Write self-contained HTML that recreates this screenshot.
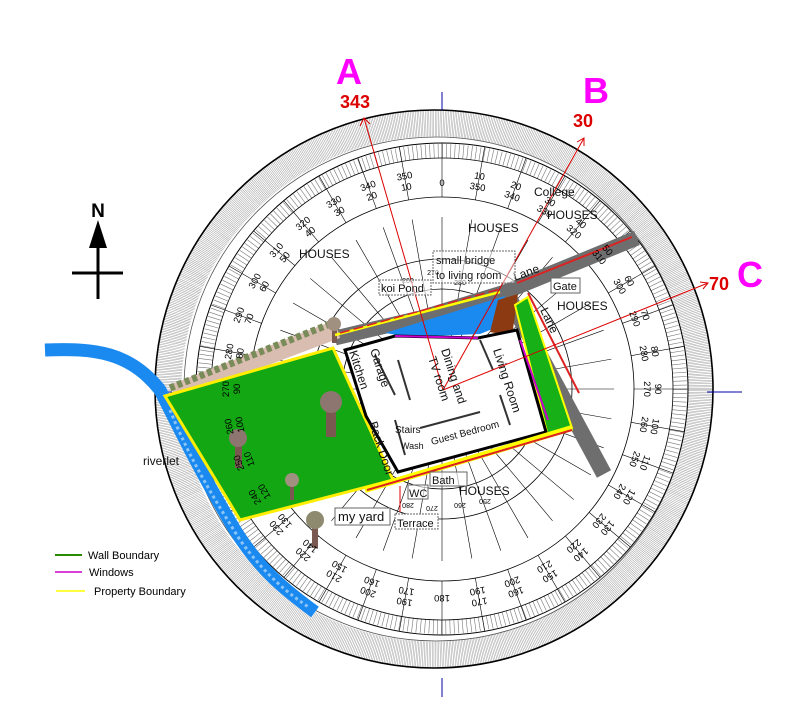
<!DOCTYPE html>
<html><head><meta charset="utf-8"><style>
html,body{margin:0;padding:0;background:#fff;}
svg{display:block;font-family:"Liberation Sans",sans-serif;}
</style></head><body>
<svg id="s" width="786" height="702" viewBox="0 0 786 702" xmlns="http://www.w3.org/2000/svg">
<rect width="786" height="702" fill="#fff"/>
<!-- outer hatched ring -->
<circle cx="434" cy="389" r="266" fill="none" stroke="#9a9a9a" stroke-width="27" stroke-dasharray="0.5 1.1"/>
<circle cx="434" cy="389" r="279" fill="none" stroke="#000" stroke-width="1.6"/>
<circle cx="436" cy="389" r="252" fill="none" stroke="#555" stroke-width="0.8"/>
<!-- dial -->
<circle cx="442" cy="389" r="246" fill="#fff" stroke="#000" stroke-width="1"/>
<circle cx="442" cy="389" r="238" fill="none" stroke="#777" stroke-width="14" stroke-dasharray="0.6 3.6"/>
<circle cx="442" cy="389" r="231" fill="none" stroke="#000" stroke-width="0.8"/>
<circle cx="442" cy="389" r="192" fill="none" stroke="#000" stroke-width="0.8"/>
<circle cx="442" cy="389" r="130" fill="none" stroke="#000" stroke-width="0.8"/>
<circle cx="442" cy="389" r="100" fill="none" stroke="#000" stroke-width="0.8"/>
<circle cx="442" cy="389" r="52" fill="none" stroke="#000" stroke-width="0.8"/>
<g id="rad" stroke="#000" stroke-width="0.6"></g>
<!-- axis lines -->
<line x1="442" y1="92" x2="442" y2="110" stroke="#00a" stroke-width="1"/>
<line x1="442" y1="678" x2="442" y2="697" stroke="#00a" stroke-width="1"/>
<line x1="707" y1="392" x2="742" y2="392" stroke="#00a" stroke-width="1"/>
<line x1="160" y1="392" x2="172" y2="392" stroke="#00a" stroke-width="1"/>
<line x1="390" y1="390" x2="500" y2="390" stroke="#000" stroke-width="1"/>
<!-- river -->
<path d="M45,350 C95,348 130,352 160,390 C185,440 205,480 235,530 C260,570 285,590 315,612" fill="none" stroke="#1a8af0" stroke-width="13"/>
<path d="M170,410 C190,460 215,500 240,540 C265,575 290,595 310,608" fill="none" stroke="#8cc4f5" stroke-width="3" stroke-dasharray="3 3"/>
<!-- lanes -->
<polyline points="335,338 420,318 505,292 637,238" fill="none" stroke="#6e6e6e" stroke-width="15"/>
<polyline points="508,296 604,474" fill="none" stroke="#6e6e6e" stroke-width="16"/>
<line x1="517" y1="283" x2="632" y2="237" stroke="#d22" stroke-width="2"/>
<line x1="528" y1="293" x2="579" y2="393" stroke="#d22" stroke-width="2"/>
<!-- tree fence -->
<polygon points="170,385 335,320 340,338 176,400" fill="#d9bdb0"/>
<polyline points="170,388 335,322" fill="none" stroke="#7a8b5a" stroke-width="7" stroke-dasharray="5 3"/>
<!-- lawn -->
<polygon points="165,396 333,348 393,480 240,520" fill="#13a813" stroke="#ffee00" stroke-width="3"/>
<!-- trees -->
<g fill="#7a5a50">
<rect x="326" y="405" width="10" height="32"/><circle cx="331" cy="402" r="11" fill="#8e7670"/>
<rect x="235" y="440" width="7" height="28"/><circle cx="238" cy="438" r="9" fill="#8e7670"/>
<rect x="290" y="482" width="4" height="18"/><circle cx="292" cy="480" r="7" fill="#a09080"/>
<rect x="312" y="520" width="6" height="28"/><circle cx="315" cy="520" r="9" fill="#8e8a70"/>
<rect x="332" y="325" width="5" height="18"/><circle cx="334" cy="324" r="7" fill="#a09080"/>
</g>
<!-- koi pond + brown -->
<polygon points="385,333 505,296 495,328 480,334 410,337" fill="#1a8af0"/>
<polygon points="498,300 518,294 512,336 490,332" fill="#8b3a12"/>
<!-- right green strip -->
<polygon points="515,305 528,297 572,428 548,436" fill="#17b017" stroke="#ff0" stroke-width="2"/>
<!-- house walls -->
<polygon points="345,350 395,336 478,338 517,330 546,432 398,472 366,416" fill="#fff" stroke="#000" stroke-width="3"/>
<line x1="395" y1="336" x2="478" y2="338" stroke="#c0c" stroke-width="2"/>
<line x1="520" y1="340" x2="548" y2="420" stroke="#c0c" stroke-width="2"/>
<g stroke="#333" stroke-width="2">
<line x1="375" y1="355" x2="395" y2="395"/><line x1="398" y1="360" x2="410" y2="400"/>
<line x1="395" y1="420" x2="405" y2="455"/><line x1="420" y1="428" x2="480" y2="412"/>
<line x1="480" y1="340" x2="493" y2="370"/><line x1="500" y1="395" x2="510" y2="425"/>
</g>
<!-- bottom boundary -->
<line x1="365" y1="490" x2="572" y2="428" stroke="#ff0" stroke-width="6"/>
<line x1="367" y1="490" x2="572" y2="430" stroke="#d22" stroke-width="2"/>
<line x1="335" y1="335" x2="500" y2="292" stroke="#ff0" stroke-width="2.5"/>
<line x1="340" y1="333" x2="500" y2="289" stroke="#d22" stroke-width="1.5" stroke-dasharray="10 4"/>
<!-- red direction lines -->
<g stroke="#d00" stroke-width="1" fill="none">
<line x1="443" y1="390" x2="364" y2="118"/><polyline points="360,126 364,118 370,124"/>
<line x1="443" y1="390" x2="584" y2="138"/><polyline points="577,142 584,138 584,146"/>
<line x1="443" y1="390" x2="708" y2="283"/><polyline points="700,282 708,283 703,289"/>
</g>
<!-- dial labels -->
<g font-size="9.5" text-anchor="middle" fill="#000" id="lab">
<text x="442" y="186" >0</text>
<g transform="rotate(10 442 389)"><text x="442" y="176">10</text><text x="442" y="187">350</text></g>
<g transform="rotate(20 442 389)"><text x="442" y="176">20</text><text x="442" y="187">340</text></g>
<g transform="rotate(30 442 389)"><text x="442" y="176">30</text><text x="442" y="187">330</text></g>
<g transform="rotate(40 442 389)"><text x="442" y="176">40</text><text x="442" y="187">320</text></g>
<g transform="rotate(50 442 389)"><text x="442" y="176">50</text><text x="442" y="187">310</text></g>
<g transform="rotate(60 442 389)"><text x="442" y="176">60</text><text x="442" y="187">300</text></g>
<g transform="rotate(70 442 389)"><text x="442" y="176">70</text><text x="442" y="187">290</text></g>
<g transform="rotate(80 442 389)"><text x="442" y="176">80</text><text x="442" y="187">280</text></g>
<g transform="rotate(90 442 389)"><text x="442" y="176">90</text><text x="442" y="187">270</text></g>
<g transform="rotate(100 442 389)"><text x="442" y="176">100</text><text x="442" y="187">260</text></g>
<g transform="rotate(110 442 389)"><text x="442" y="176">110</text><text x="442" y="187">250</text></g>
<g transform="rotate(120 442 389)"><text x="442" y="176">120</text><text x="442" y="187">240</text></g>
<g transform="rotate(130 442 389)"><text x="442" y="176">130</text><text x="442" y="187">230</text></g>
<g transform="rotate(140 442 389)"><text x="442" y="176">140</text><text x="442" y="187">220</text></g>
<g transform="rotate(150 442 389)"><text x="442" y="176">150</text><text x="442" y="187">210</text></g>
<g transform="rotate(160 442 389)"><text x="442" y="176">160</text><text x="442" y="187">200</text></g>
<g transform="rotate(170 442 389)"><text x="442" y="176">170</text><text x="442" y="187">190</text></g>
<g transform="rotate(180 442 389)"><text x="442" y="183">180</text></g>
<g transform="rotate(190 442 389)"><text x="442" y="176">190</text><text x="442" y="187">170</text></g>
<g transform="rotate(200 442 389)"><text x="442" y="176">200</text><text x="442" y="187">160</text></g>
<g transform="rotate(210 442 389)"><text x="442" y="176">210</text><text x="442" y="187">150</text></g>
<g transform="rotate(220 442 389)"><text x="442" y="176">220</text><text x="442" y="187">140</text></g>
<g transform="rotate(230 442 389)"><text x="442" y="176">230</text><text x="442" y="187">130</text></g>
<g transform="rotate(240 442 389)"><text x="442" y="176">240</text><text x="442" y="187">120</text></g>
<g transform="rotate(250 442 389)"><text x="442" y="176">250</text><text x="442" y="187">110</text></g>
<g transform="rotate(260 442 389)"><text x="442" y="176">260</text><text x="442" y="187">100</text></g>
<g transform="rotate(270 442 389)"><text x="442" y="176">270</text><text x="442" y="187">90</text></g>
<g transform="rotate(280 442 389)"><text x="442" y="176">280</text><text x="442" y="187">80</text></g>
<g transform="rotate(290 442 389)"><text x="442" y="176">290</text><text x="442" y="187">70</text></g>
<g transform="rotate(300 442 389)"><text x="442" y="176">300</text><text x="442" y="187">60</text></g>
<g transform="rotate(310 442 389)"><text x="442" y="176">310</text><text x="442" y="187">50</text></g>
<g transform="rotate(320 442 389)"><text x="442" y="176">320</text><text x="442" y="187">40</text></g>
<g transform="rotate(330 442 389)"><text x="442" y="176">330</text><text x="442" y="187">30</text></g>
<g transform="rotate(340 442 389)"><text x="442" y="176">340</text><text x="442" y="187">20</text></g>
<g transform="rotate(350 442 389)"><text x="442" y="176">350</text><text x="442" y="187">10</text></g>
</g>
<!-- small inner labels -->
<g font-size="7" fill="#000" text-anchor="middle">
<text x="433" y="275">270</text><text x="460" y="285">280</text><text x="408" y="283">260</text>
<text x="432" y="512" transform="rotate(180 432 509)">270</text><text x="408" y="509" transform="rotate(180 408 506)">280</text>
<text x="460" y="509" transform="rotate(180 460 506)">260</text><text x="485" y="505" transform="rotate(180 485 502)">250</text>
</g>
<!-- labels -->
<g font-size="12" fill="#111">
<text x="299" y="258">HOUSES</text>
<text x="468" y="232">HOUSES</text>
<text x="534" y="196">College</text>
<text x="547" y="219">HOUSES</text>
<text x="557" y="310">HOUSES</text>
<text x="459" y="495">HOUSES</text>
<text x="143" y="465">riverlet</text>
<text x="515" y="281" transform="rotate(-20 515 281)">Lane</text>
<text x="540" y="310" transform="rotate(65 540 310)">Lane</text>
<text x="370" y="350" transform="rotate(72 370 350)">Garage</text>
<text x="349" y="352" transform="rotate(72 349 352)">Kitchen</text>
<text x="441" y="350" transform="rotate(72 441 350)">Dining and</text>
<text x="428" y="358" transform="rotate(72 428 358)">TV room</text>
<text x="493" y="350" transform="rotate(72 493 350)">Living Room</text>
<text x="369" y="423" transform="rotate(72 369 423)">Back Door</text>
<text x="395" y="433" font-size="10">Stairs</text>
<text x="432" y="445" font-size="10" transform="rotate(-15 432 445)">Guest Bedroom</text>
<text x="401" y="449" font-size="9">Wash</text>
</g>
<g font-size="11" fill="#111">
<rect x="433" y="251" width="82" height="32" fill="#fff" fill-opacity="0.5" stroke="#666" stroke-dasharray="2 1"/>
<text x="436" y="264">small bridge</text><text x="436" y="279">to living room</text>
<rect x="379" y="280" width="52" height="15" fill="#fff" fill-opacity="0.6" stroke="#666" stroke-dasharray="2 1"/>
<text x="381" y="292">koi Pond</text>
<rect x="551" y="278" width="29" height="15" fill="#fff" stroke="#666"/>
<text x="553" y="290">Gate</text>
<rect x="430" y="472" width="37" height="14" fill="#fff" fill-opacity="0.6" stroke="#666"/>
<text x="432" y="484">Bath</text>
<rect x="408" y="485" width="20" height="14" fill="#fff" fill-opacity="0.6" stroke="#666"/>
<text x="409" y="497">WC</text>
<rect x="335" y="508" width="55" height="17" fill="#fff" stroke="#666"/>
<text x="338" y="521" font-size="13">my yard</text>
<rect x="395" y="514" width="43" height="15" fill="#fff" stroke="#666" stroke-dasharray="2 1"/>
<text x="397" y="527">Terrace</text>
</g>
<line x1="400" y1="486" x2="400" y2="512" stroke="#d00" stroke-width="1"/>
<!-- big letters -->
<g font-weight="bold">
<text x="336" y="84" font-size="36" fill="#f0f">A</text>
<text x="340" y="108" font-size="18" fill="#d00">343</text>
<text x="583" y="103" font-size="36" fill="#f0f">B</text>
<text x="573" y="127" font-size="18" fill="#d00">30</text>
<text x="737" y="287" font-size="36" fill="#f0f">C</text>
<text x="709" y="290" font-size="18" fill="#d00">70</text>
</g>
<!-- north arrow -->
<text x="98" y="217" font-size="19" font-weight="bold" text-anchor="middle">N</text>
<polygon points="98,220 89,248 107,248" fill="#000"/>
<line x1="98" y1="246" x2="98" y2="299" stroke="#000" stroke-width="3"/>
<line x1="72" y1="273" x2="123" y2="273" stroke="#000" stroke-width="3"/>
<!-- legend -->
<line x1="55" y1="555" x2="82" y2="555" stroke="#2a8a00" stroke-width="2"/>
<line x1="55" y1="572" x2="82" y2="572" stroke="#c0c" stroke-width="1.5"/>
<line x1="56" y1="591" x2="85" y2="591" stroke="#ff0" stroke-width="1.5"/>
<g font-size="11" fill="#000">
<text x="88" y="559">Wall Boundary</text>
<text x="89" y="576">Windows</text>
<text x="94" y="595">Property Boundary</text>
</g>
</svg>
<script>
var g=document.getElementById('rad'),ns='http://www.w3.org/2000/svg';
for(var a=0;a<360;a+=10){var r=a*Math.PI/180,s=Math.sin(r),c=-Math.cos(r);
[[52,172],[192,246]].forEach(function(p){var l=document.createElementNS(ns,'line');
l.setAttribute('x1',442+s*p[0]);l.setAttribute('y1',389+c*p[0]);l.setAttribute('x2',442+s*p[1]);l.setAttribute('y2',389+c*p[1]);g.appendChild(l);});}
</script>
</body></html>
